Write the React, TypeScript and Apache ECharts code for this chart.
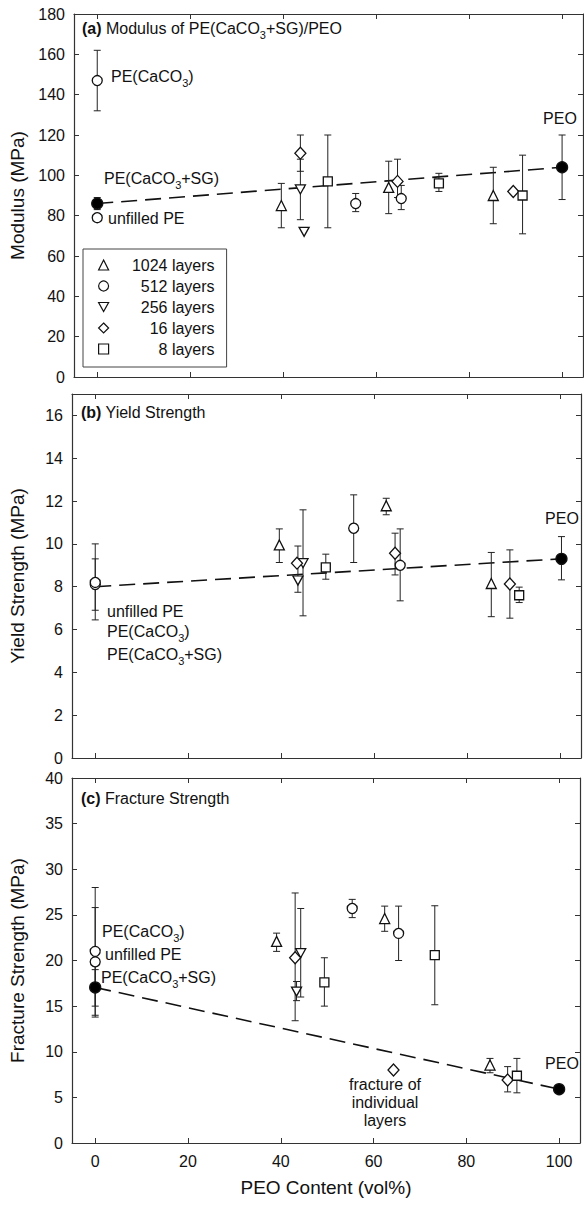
import React, { useEffect, useRef } from 'react';
import * as echarts from 'echarts';

// ---------- tick labels ----------
const xTicks = [0, 20, 40, 60, 80, 100];
const modulusTicks = [0, 20, 40, 60, 80, 100, 120, 140, 160, 180];
const yieldTicks = [0, 2, 4, 6, 8, 10, 12, 14, 16];
const fractureTicks = [0, 5, 10, 15, 20, 25, 30, 35, 40];

const layerNames = ['1024 layers', '512 layers', '256 layers', '16 layers', '8 layers'];

// ---------- data: [PEO vol%, value, lower, upper] ----------
// (a) Modulus (MPa)
const modulus1024 = [[39.6, 85, 74, 96], [62.7, 94, 81, 107], [85.2, 90, 76, 104]];
const modulus512 = [[55.6, 86, 82, 91], [65.4, 88.5, 83, 95]];
const modulus256 = [[43.7, 93, 78, 108], [44.5, 72]];
const modulus16 = [[43.7, 111, 102, 120], [64.6, 97, 89, 108], [89.5, 92]];
const modulus8 = [[49.6, 97, 74, 120], [73.5, 96, 92, 101], [91.5, 90, 71, 110]];
const modulusOpenRef = [[0, 147, 132, 162], [0, 79]]; // PE(CaCO3), unfilled PE
const modulusFilledRef = [[0, 86, 83, 89], [100, 104, 88, 120]]; // PE(CaCO3+SG), PEO
const modulusTrend = [[0, 86], [100, 104]];

// (b) Yield strength (MPa)
const yield1024 = [[39.6, 9.95, 9.13, 10.7], [62.6, 11.78, 11.36, 12.13], [85.2, 8.15, 6.6, 9.6]];
const yield512 = [[55.6, 10.73, 9.13, 12.29], [65.6, 9.0, 7.34, 10.7]];
const yield256 = [[43.6, 8.29, 7.74, 9.9], [44.7, 9.1, 6.64, 11.59]];
const yield16 = [[43.4, 9.1], [64.5, 9.56, 8.55, 10.5], [89.2, 8.13, 6.53, 9.72]];
const yield8 = [[49.6, 8.9, 8.35, 9.52], [91.2, 7.6, 7.26, 7.98]];
const yieldOpenRef = [[0, 8.1, 6.45, 10.0], [0, 8.2, 6.9, 9.3]];
const yieldFilledRef = [[100.3, 9.3, 8.32, 10.34]];
const yieldTrend = [[0, 8.0], [100, 9.3]];

// (c) Fracture strength (MPa)
const fracture1024 = [[39.1, 22.1, 21.0, 23.0], [62.4, 24.6, 23.2, 25.96], [85.1, 8.54, 7.7, 9.27]];
const fracture512 = [[55.4, 25.7, 24.7, 26.7], [65.4, 22.97, 20.0, 25.96]];
const fracture256 = [[43.4, 16.6, 15.6, 17.7], [44.3, 20.8, 16.0, 25.7]];
const fracture16 = [[43.1, 20.3, 13.4, 27.4], [64.3, 8.0], [88.9, 6.9, 5.6, 8.37]];
const fracture8 = [[49.4, 17.6, 15.0, 20.3], [73.2, 20.6, 15.15, 26.0], [90.9, 7.37, 5.5, 9.27]];
const fractureOpenRef = [[0, 21.0, 14.0, 28.0], [0, 19.86, 13.8, 25.8]];
const fractureFilledRef = [[0, 17.05, 15.0, 19.0], [100, 5.9]];
const fractureTrend = [[0, 17.05], [100, 5.9]];

const FONT = '"Liberation Sans", Arial, Helvetica, sans-serif';
const INK = '#111';
const INV_TRI = 'path://M0,0L10,0L5,9Z';

const symbolsFor: Record<string, { symbol: string; size: any }> = {
  '1024 layers': { symbol: 'triangle', size: [10, 10] },
  '512 layers': { symbol: 'circle', size: 10 },
  '256 layers': { symbol: INV_TRI, size: [10, 9] },
  '16 layers': { symbol: 'diamond', size: [11, 12] },
  '8 layers': { symbol: 'rect', size: 9 },
};

function scatter(name: string, data: number[][], gi: number, symbol: string, size: any, fill = '#fff') {
  return {
    type: 'scatter',
    name,
    xAxisIndex: gi,
    yAxisIndex: gi,
    data: data.map((d) => [d[0], d[1]]),
    symbol,
    symbolSize: size,
    itemStyle: { color: fill, borderColor: INK, borderWidth: 1.3, opacity: 1 },
    z: 4,
    silent: true,
    emphasis: { disabled: true },
  };
}

function errorBars(data: number[][], gi: number) {
  return {
    type: 'custom',
    xAxisIndex: gi,
    yAxisIndex: gi,
    z: 2,
    silent: true,
    data: data.filter((d) => d.length === 4),
    encode: { x: 0, y: [1, 2, 3] },
    renderItem: (params: any, api: any) => {
      const x = api.value(0);
      const lo = api.coord([x, api.value(2)]);
      const hi = api.coord([x, api.value(3)]);
      const w = 3.5;
      const style = { stroke: '#222', lineWidth: 1 };
      return {
        type: 'group',
        children: [
          { type: 'line', shape: { x1: lo[0], y1: lo[1], x2: hi[0], y2: hi[1] }, style },
          { type: 'line', shape: { x1: lo[0] - w, y1: lo[1], x2: lo[0] + w, y2: lo[1] }, style },
          { type: 'line', shape: { x1: hi[0] - w, y1: hi[1], x2: hi[0] + w, y2: hi[1] }, style },
        ],
      };
    },
  };
}

function trend(data: number[][], gi: number) {
  return {
    type: 'line',
    xAxisIndex: gi,
    yAxisIndex: gi,
    data,
    symbol: 'none',
    lineStyle: { color: INK, width: 1.6, type: [16, 8] },
    z: 1,
    silent: true,
  };
}

function panelSeries(gi: number, sets: number[][][], open: number[][], filled: number[][], tr: number[][]) {
  const out: any[] = [];
  const all: number[][] = [];
  layerNames.forEach((n, i) => {
    out.push(scatter(n, sets[i], gi, symbolsFor[n].symbol, symbolsFor[n].size));
    all.push(...sets[i]);
  });
  out.push(scatter('reference open', open, gi, 'circle', 10));
  out.push(scatter('reference filled', filled, gi, 'circle', 11, '#000'));
  all.push(...open, ...filled);
  out.push(errorBars(all, gi));
  out.push(trend(tr, gi));
  return out;
}

const axisLine = { show: true, onZero: false, lineStyle: { color: '#333', width: 1.2 } };

const n = { fontSize: 16, fontFamily: FONT, fill: INK, lineHeight: 16, padding: [0, 0, 4, 0], verticalAlign: 'bottom' };
const s = { fontSize: 11, fontFamily: FONT, fill: INK, lineHeight: 11, verticalAlign: 'bottom' };
const b = { ...n, fontWeight: 'bold' };
const rich = { n, s, b };

function label(text: string, x: number, y: number, align = 'left') {
  return {
    type: 'text',
    x,
    y,
    silent: true,
    style: { text, rich, textAlign: align, textVerticalAlign: 'middle', fill: INK, font: `16px ${FONT}` },
  };
}

export default function App() {
  const ref = useRef<HTMLDivElement>(null);
  useEffect(() => {
    if (!ref.current) return;
    const chart = echarts.init(ref.current, null, { renderer: 'svg' });
    const grids = [
      { left: 74, top: 14, width: 509, height: 363 },
      { left: 72, top: 394, width: 509, height: 364 },
      { left: 71, top: 778, width: 509, height: 365 },
    ];
    const yMax = [180, 17, 40];
    const yTicks = [modulusTicks, yieldTicks, fractureTicks];
    const yNames = ['Modulus (MPa)', 'Yield Strength (MPa)', 'Fracture Strength (MPa)'];
    const xAxis: any[] = [];
    const yAxis: any[] = [];
    for (let i = 0; i < 3; i++) {
      xAxis.push({
        gridIndex: i, type: 'value', min: -5, max: 104.5, position: 'bottom',
        axisLine, splitLine: { show: false },
        axisTick: { inside: true, length: 5, customValues: xTicks, lineStyle: { color: '#333' } },
        axisLabel: { show: i === 2, customValues: xTicks, fontSize: 16, color: INK, fontFamily: FONT, margin: 10 },
        name: i === 2 ? 'PEO Content (vol%)' : '', nameLocation: 'middle', nameGap: 35,
        nameTextStyle: { fontSize: 19, color: INK, fontFamily: FONT },
      });
      yAxis.push({
        gridIndex: i, type: 'value', min: 0, max: yMax[i], position: 'left',
        axisLine, splitLine: { show: false },
        axisTick: { inside: true, length: 5, customValues: yTicks[i], lineStyle: { color: '#333' } },
        axisLabel: { customValues: yTicks[i], fontSize: 16, color: INK, fontFamily: FONT, margin: 9 },
        name: yNames[i], nameLocation: 'middle', nameGap: 45,
        nameTextStyle: { fontSize: 19, color: INK, fontFamily: FONT },
      });
    }
    for (let i = 0; i < 3; i++) {
      xAxis.push({
        gridIndex: i, type: 'value', min: -5, max: 104.5, position: 'top',
        axisLine, splitLine: { show: false },
        axisTick: { inside: true, length: 5, customValues: xTicks, lineStyle: { color: '#333' } },
        axisLabel: { show: false },
      });
      yAxis.push({
        gridIndex: i, type: 'value', min: 0, max: yMax[i], position: 'right',
        axisLine, splitLine: { show: false },
        axisTick: { inside: true, length: 5, customValues: yTicks[i], lineStyle: { color: '#333' } },
        axisLabel: { show: false },
      });
    }
    const series = [
      ...panelSeries(0, [modulus1024, modulus512, modulus256, modulus16, modulus8], modulusOpenRef, modulusFilledRef, modulusTrend),
      ...panelSeries(1, [yield1024, yield512, yield256, yield16, yield8], yieldOpenRef, yieldFilledRef, yieldTrend),
      ...panelSeries(2, [fracture1024, fracture512, fracture256, fracture16, fracture8], fractureOpenRef, fractureFilledRef, fractureTrend),
    ];
    chart.setOption({
      animation: false,
      backgroundColor: '#fff',
      grid: grids,
      xAxis,
      yAxis,
      series,
      legend: {
        data: layerNames,
        orient: 'vertical',
        left: 83,
        top: 249,
        itemWidth: 10,
        itemHeight: 10,
        itemGap: 5,
        padding: [8, 12, 10, 15],
        borderColor: '#444',
        borderWidth: 1,
        selectedMode: false,
        itemStyle: { borderWidth: 1.2 },
        formatter: (name: string) => `{r|${name}}`,
        textStyle: {
          fontSize: 16, color: INK, fontFamily: FONT,
          rich: { r: { width: 101, align: 'right', fontSize: 16, lineHeight: 16, fontFamily: FONT, color: INK } },
        },
      },
      graphic: [
        label('{b|(a)}{n| Modulus of PE(CaCO}{s|3}{n|+SG)/PEO}', 82, 32),
        label('{n|PE(CaCO}{s|3}{n|)}', 111, 80),
        label('{n|PE(CaCO}{s|3}{n|+SG)}', 104, 182),
        label('{n|unfilled PE}', 108, 222),
        label('{n|PEO}', 560, 122, 'center'),
        label('{b|(b)}{n| Yield Strength}', 81, 416),
        label('{n|PEO}', 562, 522, 'center'),
        label('{n|unfilled PE}', 107, 615),
        label('{n|PE(CaCO}{s|3}{n|)}', 107, 635),
        label('{n|PE(CaCO}{s|3}{n|+SG)}', 107, 658),
        label('{b|(c)}{n| Fracture Strength}', 81, 802),
        label('{n|PE(CaCO}{s|3}{n|)}', 102, 935),
        label('{n|unfilled PE}', 105, 958),
        label('{n|PE(CaCO}{s|3}{n|+SG)}', 101, 981),
        label('{n|PEO}', 562, 1067, 'center'),
        {
          type: 'text', x: 385, y: 1102, silent: true,
          style: {
            text: 'fracture of\nindividual\nlayers', textAlign: 'center', textVerticalAlign: 'middle',
            fill: INK, font: `16px ${FONT}`, lineHeight: 18,
          },
        },
      ],
    });
    return () => chart.dispose();
  }, []);
  return <div ref={ref} style={{ position: 'absolute', left: 0, top: 0, width: 584, height: 1205 }} />;
}
